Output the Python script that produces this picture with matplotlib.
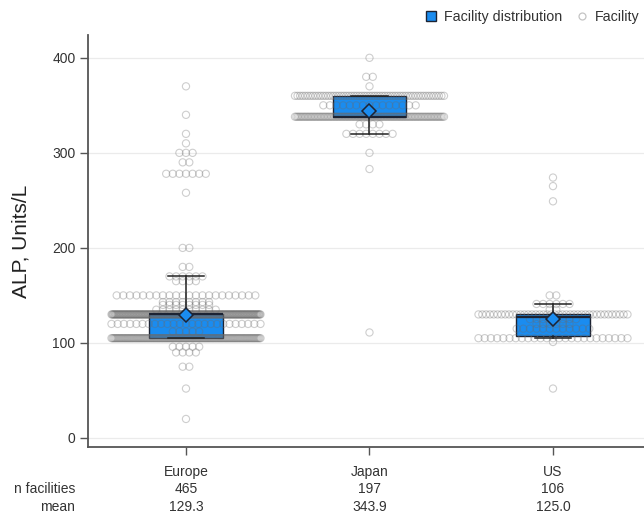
import numpy as np
import matplotlib
matplotlib.use("Agg")
import matplotlib.pyplot as plt
from matplotlib.lines import Line2D
from matplotlib.transforms import blended_transform_factory

plt.rcParams["font.family"] = ["Liberation Sans", "DejaVu Sans"]

# ---- data -------------------------------------------------------------
regions = ["Europe", "Japan", "US"]
n_facilities = [465, 197, 106]
mean_alp = [129.3, 343.9, 125.0]

# facility-level ALP values (Units/L) and how many facilities report each
europe_levels = [20, 52, 75, 90, 96, 105, 112, 120, 130, 135, 140, 143, 150,
                 165, 170, 180, 200, 258, 278, 290, 300, 310, 320, 340, 370]
europe_counts = [1, 1, 2, 4, 5, 139, 5, 25, 204, 10, 8, 8, 22,
                 4, 6, 2, 2, 1, 7, 2, 3, 1, 1, 1, 1]

japan_levels = [111, 283, 300, 320, 330, 338, 350, 360, 370, 380, 400]
japan_counts = [1, 1, 1, 8, 4, 104, 15, 59, 1, 2, 1]

us_levels = [52, 101, 105, 115, 120, 125, 130, 135, 141, 150, 249, 265, 274]
us_counts = [1, 1, 25, 12, 6, 8, 40, 2, 6, 2, 1, 1, 1]

yticks = [0, 100, 200, 300, 400]

# ---- styling ----------------------------------------------------------
BOX_BLUE = "#1a8cf0"
EDGE = "#1c2333"
DOT = (0.42, 0.42, 0.42)
TXT = "#333333"
FS = 10

W, H = 644, 520
fig = plt.figure(figsize=(W / 100, H / 100), dpi=100)
ax_l, ax_b, ax_w, ax_h = 88, 73, 556, 412
ax = fig.add_axes([ax_l / W, ax_b / H, ax_w / W, ax_h / H])
xlim = (-0.534, 2.496)
ylim = (-9.5, 424)
ax.set_xlim(*xlim)
ax.set_ylim(*ylim)
px_per_x = ax_w / (xlim[1] - xlim[0])


def row_offsets(n, d=6.6, span=149.0):
    """Horizontal offsets (data units) for n dots sharing one value."""
    if n == 1:
        return np.zeros(1)
    step = min(d, span / (n - 1))
    return (np.arange(n) - (n - 1) / 2) * step / px_per_x


groups = [(europe_levels, europe_counts),
          (japan_levels, japan_counts),
          (us_levels, us_counts)]
positions = np.arange(len(regions))

values = [np.repeat(lv, ct) for lv, ct in groups]

# boxes: interquartile range, whiskers at 5th / 95th percentiles
bp = ax.boxplot(values, positions=positions, widths=0.4, whis=(5, 95),
                showfliers=False, patch_artist=True, capwidths=0.2,
                boxprops=dict(facecolor=BOX_BLUE, edgecolor=EDGE, linewidth=1.0),
                medianprops=dict(color=EDGE, linewidth=1.6),
                whiskerprops=dict(color="#222222", linewidth=1.1),
                capprops=dict(color="#222222", linewidth=1.1))
for b in bp["boxes"]:
    b.set_zorder(3)
for key in ("medians", "whiskers", "caps"):
    for ln in bp[key]:
        ln.set_zorder(6)

# individual facilities as a centred swarm
for pos, (lv, ct) in zip(positions, groups):
    xs, ys = [], []
    for v, c in zip(lv, ct):
        off = row_offsets(c)
        xs.extend(pos + off)
        ys.extend([v] * c)
    ax.scatter(xs, ys, s=27, facecolors="none", edgecolors=[DOT],
               linewidths=0.8, alpha=0.33, zorder=4)

# group means
ax.plot(positions, mean_alp, linestyle="none", marker="D", ms=7,
        mfc=BOX_BLUE, mec=EDGE, mew=1.1, zorder=7)

# axes cosmetics
ax.set_yticks(yticks)
ax.set_xticks(positions)
ax.set_xticklabels(regions)
ax.yaxis.grid(True, color="#ebebeb", linewidth=0.9)
ax.set_axisbelow(True)
for s in ("top", "right"):
    ax.spines[s].set_visible(False)
for s in ("left", "bottom"):
    ax.spines[s].set_color("#555555")
    ax.spines[s].set_linewidth(1.3)
ax.tick_params(axis="both", direction="out", length=6, width=1.0,
               color="#555555", labelcolor=TXT, labelsize=FS)
ax.tick_params(axis="y", pad=3)
ax.tick_params(axis="x", length=6, pad=7)
ax.set_ylabel("ALP, Units/L", fontsize=15, color="#222222")
ax.yaxis.set_label_coords((31 - ax_l) / ax_w, 0.5)

# summary rows under the axis
tr = blended_transform_factory(ax.transData, fig.transFigure)
row_y = [1 - 489 / H, 1 - 507 / H]
fig.text(75 / W, row_y[0], "n facilities", ha="right", va="center",
         fontsize=FS, color=TXT)
fig.text(75 / W, row_y[1], "mean", ha="right", va="center",
         fontsize=FS, color=TXT)
for pos, n, m in zip(positions, n_facilities, mean_alp):
    fig.text(pos, row_y[0], f"{n}", transform=tr, ha="center", va="center",
             fontsize=FS, color=TXT)
    fig.text(pos, row_y[1], f"{m:.1f}", transform=tr, ha="center",
             va="center", fontsize=FS, color=TXT)

# legend along the top
handles = [
    Line2D([], [], linestyle="none", marker="s", ms=7.5, mfc=BOX_BLUE,
           mec=EDGE, mew=1.0),
    Line2D([], [], linestyle="none", marker="o", ms=5, mfc="none",
           mec="#c4c4c4", mew=0.9),
]
fig.legend(handles, ["Facility distribution", "Facility"], loc="center left",
           bbox_to_anchor=(411 / W, 1 - 17 / H), ncol=2, frameon=False,
           fontsize=10.3, handlelength=1.0, handletextpad=0.4,
           columnspacing=0.9, labelcolor=TXT)

fig.savefig("out.png", dpi=100)
